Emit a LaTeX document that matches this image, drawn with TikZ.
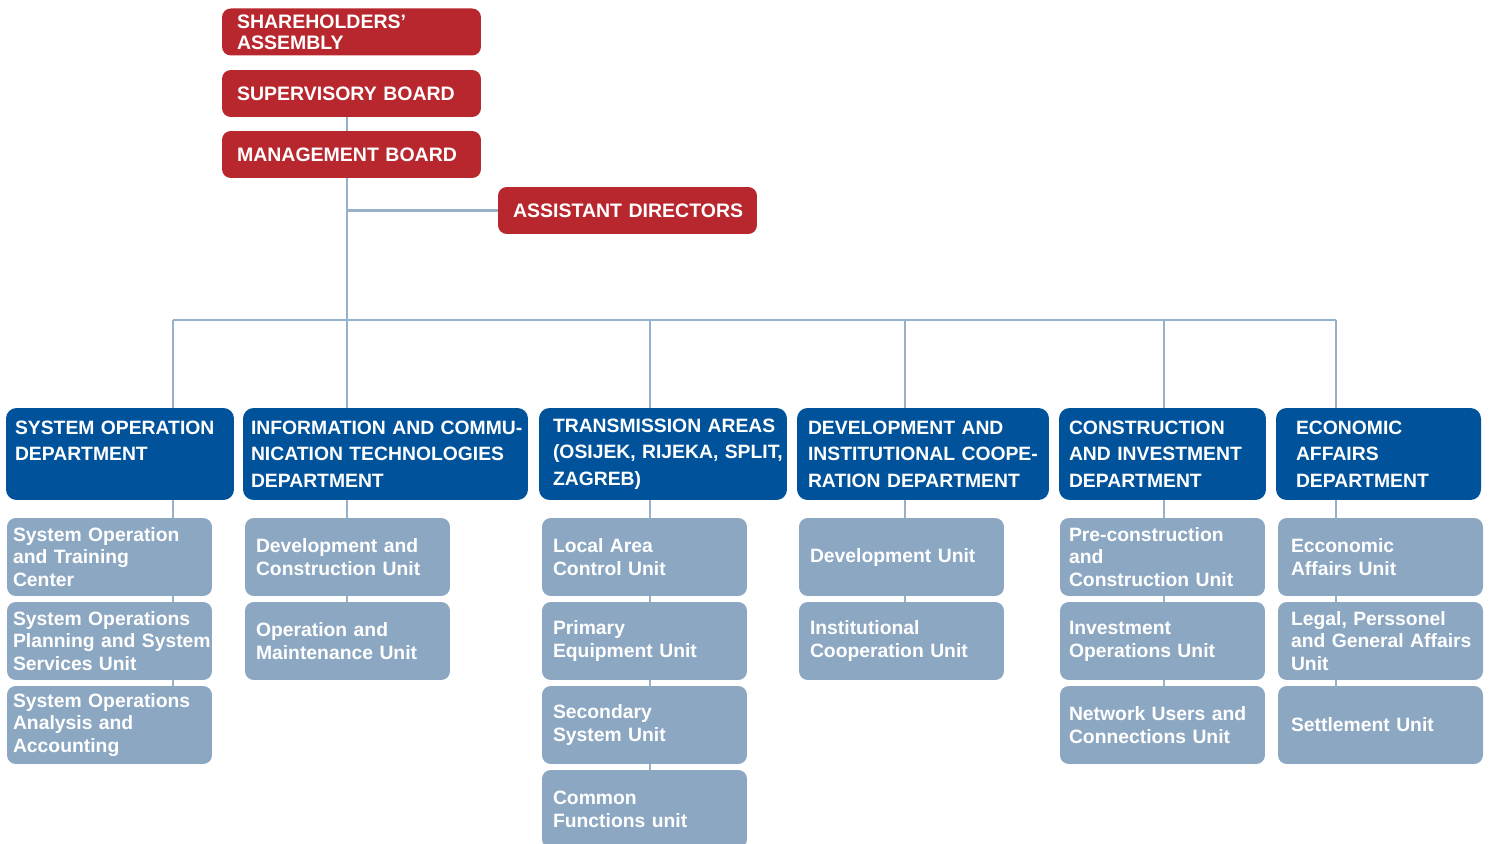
\documentclass[tikz,border=0pt]{standalone}
\usepackage{fontspec}
\setmainfont{Liberation Sans}
\usetikzlibrary{backgrounds}
\definecolor{boardred}{RGB}{184,39,46}
\definecolor{deptblue}{RGB}{0,83,155}
\definecolor{unitblue}{RGB}{140,167,194}
\definecolor{linkblue}{RGB}{152,177,203}
\begin{document}
\begin{tikzpicture}[x=0.02cm, y=-0.02cm,
    box/.style={inner xsep=0pt, inner ysep=0pt, align=left, text=white,
      execute at begin node={\hyphenpenalty=10000\exhyphenpenalty=10000},
      font=\bfseries\fontsize{11.1}{12}\selectfont},
    board/.style={box, fill=boardred, rounded corners=5pt,
      minimum width=5.18cm, minimum height=0.94cm, text width=4.58cm},
    dept/.style={box, fill=deptblue, rounded corners=6pt, minimum height=1.84cm,
      font=\bfseries\fontsize{11}{15}\selectfont},
    unit/.style={box, fill=unitblue, rounded corners=5pt, minimum width=4.1cm,
      minimum height=1.56cm, text width=3.66cm,
      font=\bfseries\fontsize{11}{13}\selectfont},
    link/.style={draw=linkblue, line width=1.3pt}]
    \useasboundingbox (0,0) rectangle (1490,844);
    % boards
    \node [board] (assembly) at (351.5,32) {SHAREHOLDERS’\\ASSEMBLY};
    \node [board] (supervisory) at (351.5,93.5) {SUPERVISORY~BOARD};
    \node [board] (management) at (351.5,154.5) {MANAGEMENT~BOARD};
    \node [board] (assistants) at (627.5,210.5) {ASSISTANT~DIRECTORS};
    % departments
    \node [dept,minimum width=4.56cm,text width=4.2cm] (sod) at (120,454)
      {SYSTEM~OPERATION\\DEPARTMENT\\\mbox{}};
    \node [dept,minimum width=5.7cm,text width=5.38cm] (ictd) at (385.5,454)
      {INFORMATION~AND~COMMU-\\NICATION~TECHNOLOGIES\\DEPARTMENT};
    \node [dept,minimum width=4.96cm,text width=4.4cm] (tad) at (663,454)
      {TRANSMISSION~AREAS\\(OSIJEK,~RIJEKA,~SPLIT,\\ZAGREB)};
    \node [dept,minimum width=5.04cm,text width=4.6cm] (dicd) at (923,454)
      {DEVELOPMENT~AND\\INSTITUTIONAL~COOPE-\\RATION~DEPARTMENT};
    \node [dept,minimum width=4.14cm,text width=3.74cm] (cid) at (1162.5,454)
      {CONSTRUCTION\\AND~INVESTMENT\\DEPARTMENT};
    \node [dept,minimum width=4.1cm,text width=3.3cm] (ead) at (1378.5,454)
      {ECONOMIC\\AFFAIRS\\DEPARTMENT};
    % units
    \node [unit,text width=3.86cm] (so1) at (109.5,557) {System~Operation\\and~Training\\Center};
    \node [unit,text width=3.86cm] (so2) at (109.5,641) {System~Operations\\Planning~and~System\\Services~Unit};
    \node [unit,text width=3.86cm] (so3) at (109.5,725) {System~Operations\\Analysis~and\\Accounting};
    \node [unit] (ict1) at (347.5,557) {Development~and\\Construction~Unit};
    \node [unit] (ict2) at (347.5,641) {Operation~and\\Maintenance~Unit};
    \node [unit] (ta1) at (644.5,557) {Local~Area\\Control~Unit};
    \node [unit] (ta2) at (644.5,641) {Primary\\Equipment~Unit};
    \node [unit] (ta3) at (644.5,725) {Secondary\\System~Unit};
    \node [unit] (ta4) at (644.5,809) {Common\\Functions~unit};
    \node [unit] (dic1) at (901.5,557) {Development~Unit};
    \node [unit] (dic2) at (901.5,641) {Institutional\\Cooperation~Unit};
    \node [unit,text width=3.74cm] (ci1) at (1162.5,557) {Pre-construction\\and\\Construction~Unit};
    \node [unit,text width=3.74cm] (ci2) at (1162.5,641) {Investment\\Operations~Unit};
    \node [unit,text width=3.74cm] (ci3) at (1162.5,725) {Network~Users~and\\Connections~Unit};
    \node [unit,text width=3.58cm] (ea1) at (1380.5,557) {Ecconomic\\Affairs~Unit};
    \node [unit,text width=3.58cm] (ea2) at (1380.5,641) {Legal,~Perssonel\\and~General~Affairs\\Unit};
    \node [unit,text width=3.58cm] (ea3) at (1380.5,725) {Settlement~Unit};
    % connectors
    \coordinate (stem) at (347,320);
    \foreach \name/\x in {so/173,ict/347,ta/650,dic/905,ci/1164,ea/1336}
      \coordinate (top\name) at (\x,320);
    \begin{scope}[on background layer]
      \path
      (supervisory.south -| stem) edge [link] (stem)
      (stem |- assistants) edge [link] (assistants.west)
      (topso) edge [link] (topea)
      (topso) edge [link] (so3 -| topso)
      (topict) edge [link] (ict2 -| topict)
      (topta) edge [link] (ta4 -| topta)
      (topdic) edge [link] (dic2 -| topdic)
      (topci) edge [link] (ci3 -| topci)
      (topea) edge [link] (ea3 -| topea)
      ;
    \end{scope}
\end{tikzpicture}
\end{document}
